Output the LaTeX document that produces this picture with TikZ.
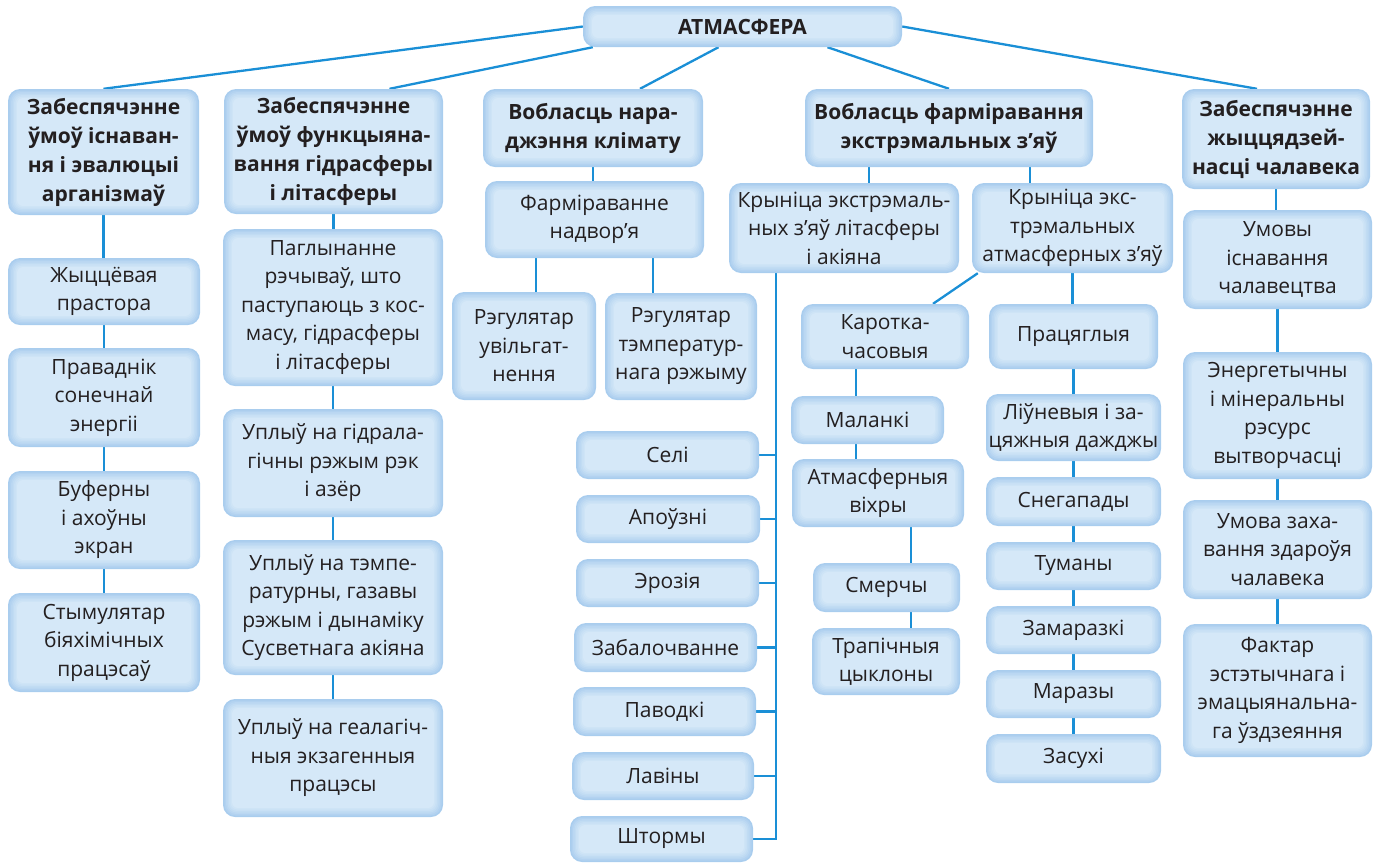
\documentclass[tikz,border=0pt]{standalone}
\usepackage{fontspec}
\setmainfont{Open Sans}
\usetikzlibrary{calc,backgrounds}
\definecolor{ln}{HTML}{1A8FD6}
\definecolor{bxa}{HTML}{A9CDEE}
\definecolor{bxe}{HTML}{D5E8F8}
\definecolor{tx}{HTML}{231F20}
\tikzset{
  box/.style={rounded corners=12pt, fill=bxa, inner sep=0pt, align=center, text=tx,
    font=\fontsize{21}{28.5}\selectfont,
    path picture={
      \foreach \d/\p/\r in {1.5/20/11,3/38/10,4.5/55/9,6/70/8,7.5/85/7,9/100/6}{
        \fill[fill=bxe!\p!bxa, rounded corners=\r pt]
          ([xshift=\d pt, yshift=\d pt]path picture bounding box.south west) rectangle
          ([xshift=-\d pt, yshift=-\d pt]path picture bounding box.north east);
      }
    }},
  hbox/.style={box, font=\bfseries\fontsize{21}{29}\selectfont},
  conn/.style={draw=ln, line width=2.3pt},
}
\newcommand\mybox[7][box]{\node[#1, minimum width={(#5-#3)*1pt}, minimum height={(#6-#4)*1pt}] (#2) at ({(#3+#5)/2},{(#4+#6)/2}) {#7};}
\newcommand\vlink[2]{\draw[conn] (#1.south) -- (#1.south |- #2.north);}
\begin{document}
\begin{tikzpicture}[x=1pt, y=-1pt]
\useasboundingbox (0,0) rectangle (1373,863);
% top
\mybox[hbox]{atm}{583}{6}{902}{47}{АТМАСФЕРА}
% level 1
\mybox[hbox]{b1}{8}{89}{199}{215}{Забеспячэнне\\ўмоў існаван-\\ня і эвалюцыі\\арганізмаў}
\mybox[hbox]{b2}{224}{89}{443}{214}{Забеспячэнне\\ўмоў функцыяна-\\вання гідрасферы\\і літасферы}
\mybox[hbox]{b3}{483}{89}{703}{167}{Вобласць нара-\\джэння клімату}
\mybox[hbox]{b4}{805}{89}{1093}{167}{Вобласць фарміравання\\экстрэмальных з’яў}
\mybox[hbox]{b5}{1182}{89}{1370}{189}{Забеспячэнне\\жыццядзей-\\насці чалавека}
% column 1
\mybox{c1a}{8}{258}{200}{325}{Жыццёвая\\прастора}
\mybox{c1b}{8}{348}{200}{447}{Праваднік\\сонечнай\\энергіі}
\mybox{c1c}{8}{471}{200}{569}{Буферны\\і ахоўны\\экран}
\mybox{c1d}{8}{593}{200}{692}{Стымулятар\\біяхімічных\\працэсаў}
% column 2
\mybox{c2a}{223}{229}{443}{386}{Паглынанне\\рэчываў, што\\паступаюць з кос-\\масу, гідрасферы\\і літасферы}
\mybox{c2b}{223}{409}{443}{517}{Уплыў на гідрала-\\гічны рэжым рэк\\і азёр}
\mybox{c2c}{223}{540}{443}{675}{Уплыў на тэмпе-\\ратурны, газавы\\рэжым і дынаміку\\Сусветнага акіяна}
\mybox{c2d}{223}{699}{443}{817}{Уплыў на геалагіч-\\ныя экзагенныя\\працэсы}
% column 3
\mybox{f}{485}{181}{704}{258}{Фарміраванне\\надвор’я}
\mybox{r1}{452}{292}{596}{400}{Рэгулятар\\увільгат-\\нення}
\mybox{r2}{605}{293}{757}{400}{Рэгулятар\\тэмператур-\\нага рэжыму}
% column 4
\mybox{k1}{729}{183}{959}{273}{Крыніца экстрэмаль-\\ных з’яў літасферы\\і акіяна}
\mybox{k2}{972}{183}{1173}{273}{Крыніца экс-\\трэмальных\\атмасферных з’яў}
\mybox{s1}{576}{431}{759}{479}{Селі}
\mybox{s2}{576}{495}{760}{543}{Апоўзні}
\mybox{s3}{576}{559}{759}{607}{Эрозія}
\mybox{s4}{574}{623}{757}{672}{Забалочванне}
\mybox{s5}{573}{687}{756}{736}{Паводкі}
\mybox{s6}{572}{752}{754}{800}{Лавіны}
\mybox{s7}{570}{816}{753}{862}{Штормы}
\mybox{ka}{801}{304}{969}{369}{Каротка-\\часовыя}
\mybox{ma}{791}{396}{944}{444}{Маланкі}
\mybox{av}{792}{459}{964}{527}{Атмасферныя\\віхры}
\mybox{sm}{813}{563}{960}{612}{Смерчы}
\mybox{tc}{812}{628}{960}{695}{Трапічныя\\цыклоны}
\mybox{p}{989}{304}{1158}{369}{Працяглыя}
\mybox{l}{986}{394}{1161}{461}{Ліўневыя і за-\\цяжныя дажджы}
\mybox{sn}{986}{477}{1161}{526}{Снегапады}
\mybox{tu}{986}{542}{1161}{590}{Туманы}
\mybox{za}{986}{606}{1161}{654}{Замаразкі}
\mybox{mr}{986}{670}{1161}{718}{Маразы}
\mybox{zs}{986}{734}{1161}{783}{Засухі}
% column 5
\mybox{u1}{1183}{210}{1372}{309}{Умовы\\існавання\\чалавецтва}
\mybox{u2}{1183}{352}{1372}{479}{Энергетычны\\і мінеральны\\рэсурс\\вытворчасці}
\mybox{u3}{1183}{500}{1372}{599}{Умова заха-\\вання здароўя\\чалавека}
\mybox{u4}{1183}{624}{1372}{757}{Фактар\\эстэтычнага і\\эмацыянальна-\\га ўздзеяння}
% connectors
\begin{scope}[on background layer]
\draw[conn] (atm.west) -- (b1.north);
\draw[conn] ([xshift=10pt]atm.south west) -- ([xshift=56pt]b2.north);
\draw[conn] ([xshift=-24pt]atm.south) -- ([xshift=47pt]b3.north);
\draw[conn] ([xshift=85pt]atm.south) -- (b4.north);
\draw[conn] (atm.east) -- ([xshift=-19pt]b5.north);
\vlink{b1}{c1a}\vlink{c1a}{c1b}\vlink{c1b}{c1c}\vlink{c1c}{c1d}
\vlink{b2}{c2a}\vlink{c2a}{c2b}\vlink{c2b}{c2c}\vlink{c2c}{c2d}
\vlink{b3}{f}
\draw[conn] ([xshift=12pt]r1.north) -- ([xshift=12pt]r1.north |- f.south);
\draw[conn] ([xshift=-28pt]r2.north) -- ([xshift=-28pt]r2.north |- f.south);
\draw[conn] ([xshift=-80pt]b4.south) -- ([xshift=-80pt]b4.south |- k1.north);
\draw[conn] ([xshift=81pt]b4.south) -- ([xshift=81pt]b4.south |- k2.north);
\coordinate (tr) at ([xshift=-68pt]k1.south);
\draw[conn] (tr) |- (s7.east);
\foreach \s in {s1,s2,s3,s4,s5,s6}{\draw[conn] (\s.east) -- (\s.east -| tr);}
\draw[conn] ([xshift=6pt]k2.south west) -- ([xshift=48pt]ka.north);
\draw[conn] ([xshift=-29pt]ka.south) -- ([xshift=-29pt]ka.south |- ma.north);
\draw[conn] ([xshift=-11.5pt]ma.south) -- ([xshift=-11.5pt]ma.south |- av.north);
\draw[conn] ([xshift=33pt]av.south) -- ([xshift=33pt]av.south |- sm.north);
\draw[conn] ([xshift=24.5pt]sm.south) -- ([xshift=24.5pt]sm.south |- tc.north);
\vlink{k2}{p}\vlink{p}{l}\vlink{l}{sn}\vlink{sn}{tu}\vlink{tu}{za}\vlink{za}{mr}\vlink{mr}{zs}
\vlink{b5}{u1}\vlink{u1}{u2}\vlink{u2}{u3}\vlink{u3}{u4}
\end{scope}
\end{tikzpicture}
\end{document}
